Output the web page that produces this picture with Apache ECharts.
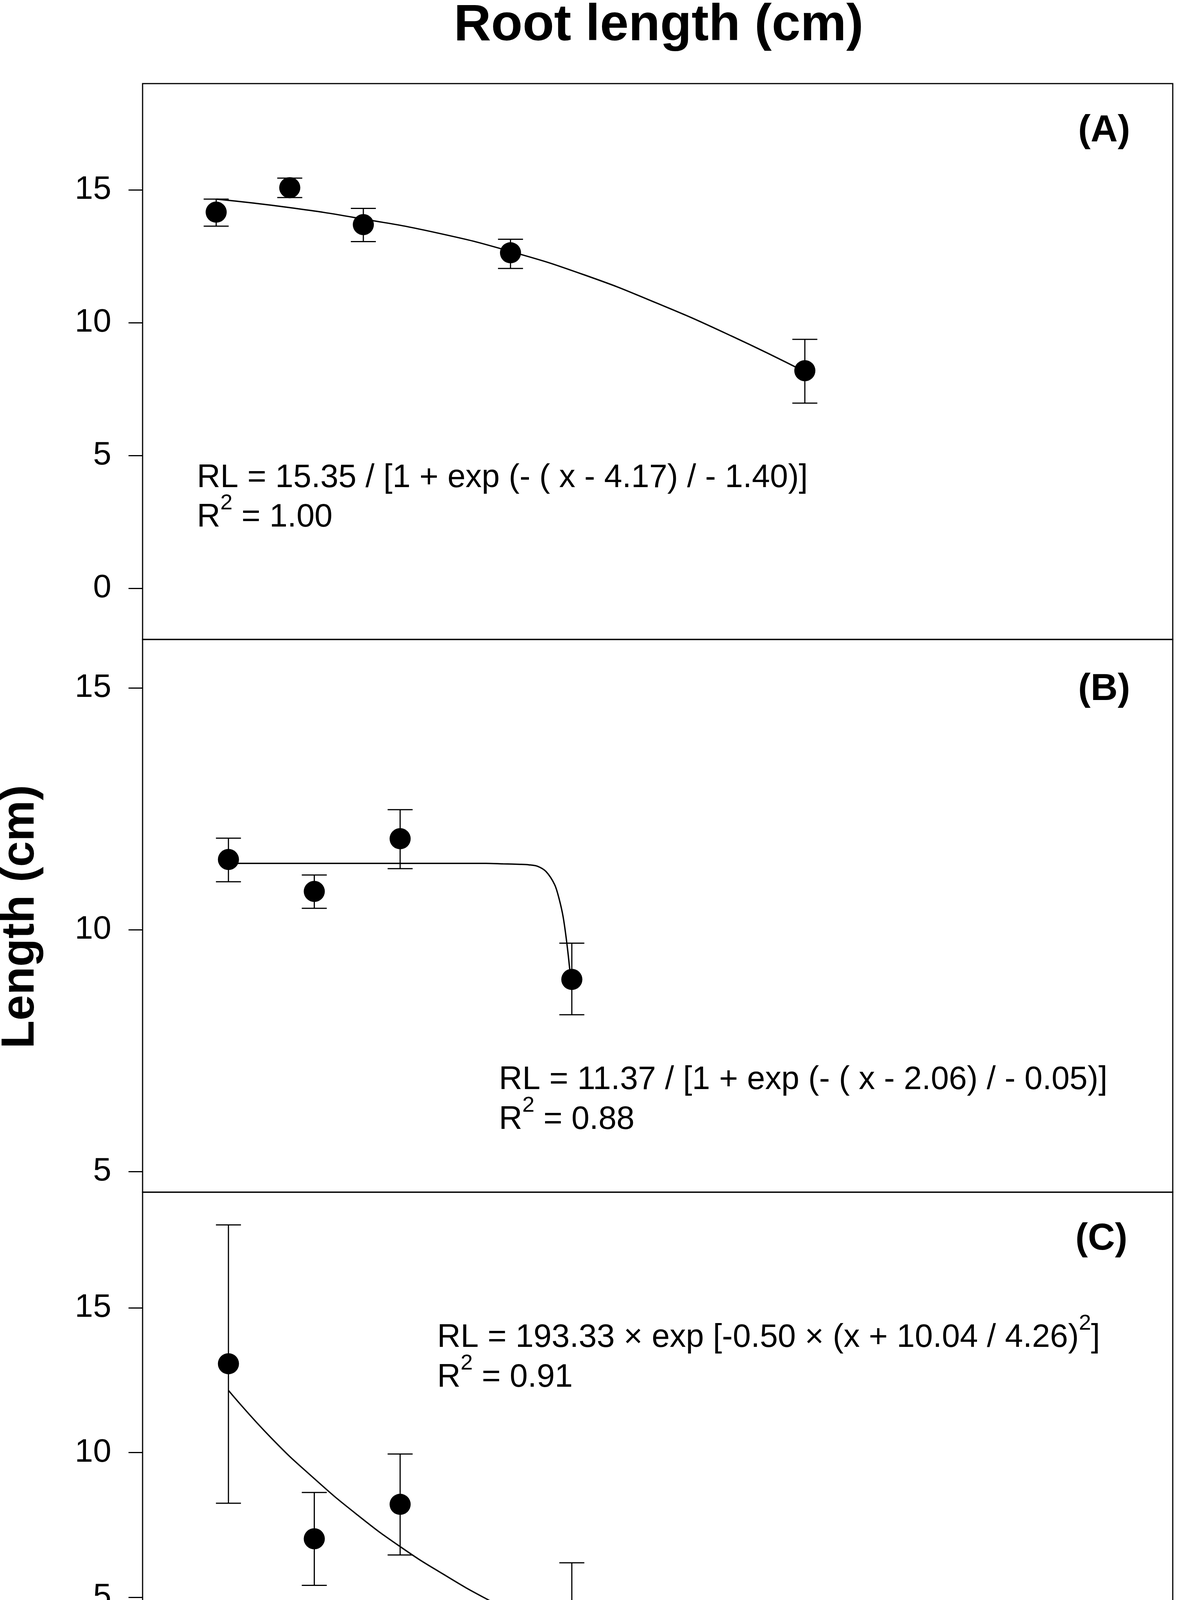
<!DOCTYPE html>
<html><head><meta charset="utf-8">
<script src="https://cdn.jsdelivr.net/npm/echarts@6/dist/echarts.min.js"></script>
<style>html,body{margin:0;padding:0;background:#fff}#c{width:3018px;height:4972px}</style>
</head><body><div id="c"></div>
<script>
// ---- data ----
const depthA = [0, 0.5, 1, 2, 4];
const meanA  = [14.16, 15.08, 13.69, 12.63, 8.19];
const lowA   = [13.63, 14.71, 13.05, 12.04, 6.97];
const highA  = [14.65, 15.44, 14.30, 13.14, 9.37];
const fitXA  = [0, 0.5, 1, 1.5, 2, 2.5, 3, 3.5, 4];
const fitYA  = [14.65, 14.33, 13.9, 13.38, 12.68, 11.8, 10.72, 9.5, 8.15];

const depthB = [0, 0.5, 1, 2];
const meanB  = [11.45, 10.79, 11.88, 8.97];
const lowB   = [10.99, 10.44, 11.26, 8.24];
const highB  = [11.89, 11.13, 12.48, 9.72];
const fitXB  = [0, 0.5, 1, 1.5, 1.6, 1.7, 1.75, 1.8, 1.85, 1.9, 1.925, 1.95, 1.975, 2.0];
const fitYB  = [11.37, 11.37, 11.37, 11.37, 11.36, 11.35, 11.34, 11.31, 11.2, 10.93, 10.65, 10.25, 9.6, 8.75];

const depthC = [0, 0.5, 1, 2, 4];
const meanC  = [13.07, 7.02, 8.21, 4.22, 0];
const lowC   = [8.25, 5.41, 6.46, 2.21, null];
const highC  = [17.87, 8.62, 9.95, 6.19, null];
const fitXC  = [0, 0.25, 0.5, 0.75, 1, 1.25, 1.5, 1.75, 2, 2.5, 3, 3.5, 4];
const fitYC  = [12.15, 10.5, 9.1, 7.85, 6.75, 5.8, 4.95, 4.22, 3.6, 2.58, 1.8, 1.26, 0.86];

const yTicksA = [0, 5, 10, 15];
const yTicksB = [5, 10, 15];
const yTicksC = [0, 5, 10, 15];
const xTicks  = [0, 1, 2, 3, 4, 5];

const titleText = 'Root length (cm)';
const yName = 'Length (cm)';
const xName = 'Burial depth (cm)';
const panelLabels = ['(A)', '(B)', '(C)'];
const eqA = [['RL = 15.35 / [1 + exp (- ( x - 4.17) / - 1.40)]'], ['R', '2', ' = 1.00']];
const eqB = [['RL = 11.37 / [1 + exp (- ( x - 2.06) / - 0.05)]'], ['R', '2', ' = 0.88']];
const eqC = [['RL = 193.33 × exp [-0.50 × (x + 10.04 / 4.26)', '2', ']'], ['R', '2', ' = 0.91']];

// ---- chart ----
const FONT = 'Liberation Sans';
const chart = echarts.init(document.getElementById('c'), null, {renderer: 'canvas'});

const gridDefs = [
  {left: 365, top: 214, width: 2637, height: 1423},
  {left: 365, top: 1637, width: 2637, height: 1415},
  {left: 365, top: 3052, width: 2637, height: 1556}
];
const yRanges = [[-1.93, 19.0], [4.57, 16.0], [-2.01, 19.0]];
const xRanges = [[-0.5, 6.5], [-0.5, 5.5], [-0.5, 5.5]];
const yTicks = [yTicksA, yTicksB, yTicksC];

function yAxis(i) {
  return {
    type: 'value', gridIndex: i, min: yRanges[i][0], max: yRanges[i][1], position: 'left',
    axisLine: {show: false, onZero: false}, splitLine: {show: false},
    axisTick: {show: true, length: 36, customValues: yTicks[i], lineStyle: {color: '#000', width: 3}},
    axisLabel: {show: true, customValues: yTicks[i], margin: 80, color: '#000', fontSize: 84, fontFamily: FONT}
  };
}
function xAxis(i) {
  const showT = i === 2;
  return {
    type: 'value', gridIndex: i, min: xRanges[i][0], max: xRanges[i][1], position: 'bottom',
    axisLine: {show: false, onZero: false}, splitLine: {show: false},
    axisTick: {show: showT, length: 28, customValues: xTicks, lineStyle: {color: '#000', width: 3}},
    axisLabel: {show: showT, customValues: xTicks, margin: 75, color: '#000', fontSize: 84, fontFamily: FONT}
  };
}

function errData(d, lo, hi) {
  const out = [];
  d.forEach((x, k) => { if (lo[k] != null && hi[k] != null) out.push([x, lo[k], hi[k]]); });
  return out;
}
function errSeries(i, data) {
  return {
    type: 'custom', xAxisIndex: i, yAxisIndex: i, z: 3, silent: true,
    encode: {x: 0, y: [1, 2]},
    data: data,
    renderItem: function (params, api) {
      const x = api.value(0), lo = api.value(1), hi = api.value(2);
      const a = api.coord([x, hi]), b = api.coord([x, lo]);
      const hw = 32, st = {stroke: '#000', lineWidth: 3};
      return {type: 'group', children: [
        {type: 'line', shape: {x1: a[0], y1: a[1], x2: b[0], y2: b[1]}, style: st},
        {type: 'line', shape: {x1: a[0] - hw, y1: a[1], x2: a[0] + hw, y2: a[1]}, style: st},
        {type: 'line', shape: {x1: b[0] - hw, y1: b[1], x2: b[0] + hw, y2: b[1]}, style: st}
      ]};
    }
  };
}
function pts(i, d, m) {
  return {type: 'scatter', xAxisIndex: i, yAxisIndex: i, z: 4, silent: true,
    symbol: 'circle', symbolSize: 54, itemStyle: {color: '#000', opacity: 1},
    data: d.map((x, k) => [x, m[k]])};
}
function fit(i, xs, ys, sm) {
  return {type: 'line', xAxisIndex: i, yAxisIndex: i, z: 2, silent: true,
    showSymbol: false, symbol: 'none', smooth: sm,
    lineStyle: {color: '#000', width: 3.5},
    data: xs.map((x, k) => [x, ys[k]])};
}

// text helpers
const ctx = document.createElement('canvas').getContext('2d');
function tw(s, size, weight) { ctx.font = (weight || 'normal') + ' ' + size + 'px "' + FONT + '"'; return ctx.measureText(s).width; }
const EQ = 83, SUP = 56;
function eqElems(x0, yc1, lines, lineGap) {
  const els = [];
  lines.forEach((parts, li) => {
    let x = x0; const yc = yc1 + li * lineGap;
    parts.forEach((p, pi) => {
      const sup = (pi % 2 === 1);
      const size = sup ? SUP : EQ;
      els.push({type: 'text', x: x, y: sup ? yc - 36 : yc, silent: true,
        style: {text: p, fill: '#000', fontSize: size, fontFamily: FONT, align: 'left', verticalAlign: 'middle'}});
      x += tw(p, size);
    });
  });
  return els;
}

const graphic = [
  {type: 'text', x: 1686, y: 67, silent: true,
   style: {text: titleText, fill: '#000', fontSize: 132, fontWeight: 'bold', fontFamily: FONT, align: 'center', verticalAlign: 'middle'}},
  {type: 'text', x: 1688, y: 4898, silent: true,
   style: {text: xName, fill: '#000', fontSize: 120, fontWeight: 'bold', fontFamily: FONT, align: 'center', verticalAlign: 'middle'}},
  {type: 'text', x: 53, y: 2347, rotation: Math.PI / 2, silent: true,
   style: {text: yName, fill: '#000', fontSize: 118, fontWeight: 'bold', fontFamily: FONT, align: 'center', verticalAlign: 'middle'}},
  {type: 'text', x: 2893, y: 336, silent: true,
   style: {text: panelLabels[0], fill: '#000', fontSize: 96, fontWeight: 'bold', fontFamily: FONT, align: 'right', verticalAlign: 'middle'}},
  {type: 'text', x: 2893, y: 1766, silent: true,
   style: {text: panelLabels[1], fill: '#000', fontSize: 96, fontWeight: 'bold', fontFamily: FONT, align: 'right', verticalAlign: 'middle'}},
  {type: 'text', x: 2886, y: 3173, silent: true,
   style: {text: panelLabels[2], fill: '#000', fontSize: 96, fontWeight: 'bold', fontFamily: FONT, align: 'right', verticalAlign: 'middle'}}
].concat(eqElems(504, 1224, eqA, 101))
 .concat(eqElems(1277, 2765, eqB, 102))
 .concat(eqElems(1119, 3425, eqC, 102));

chart.setOption({
  animation: false,
  backgroundColor: '#fff',
  grid: gridDefs.map(g => Object.assign({show: true, borderColor: '#000', borderWidth: 3, backgroundColor: 'transparent', containLabel: false}, g)),
  xAxis: [xAxis(0), xAxis(1), xAxis(2)],
  yAxis: [yAxis(0), yAxis(1), yAxis(2)],
  series: [
    fit(0, fitXA, fitYA, 0.5), errSeries(0, errData(depthA, lowA, highA)), pts(0, depthA, meanA),
    fit(1, fitXB, fitYB, 0.3), errSeries(1, errData(depthB, lowB, highB)), pts(1, depthB, meanB),
    fit(2, fitXC, fitYC, 0.5), errSeries(2, errData(depthC, lowC, highC)), pts(2, depthC, meanC)
  ],
  graphic: graphic
});
</script>
</body></html>
